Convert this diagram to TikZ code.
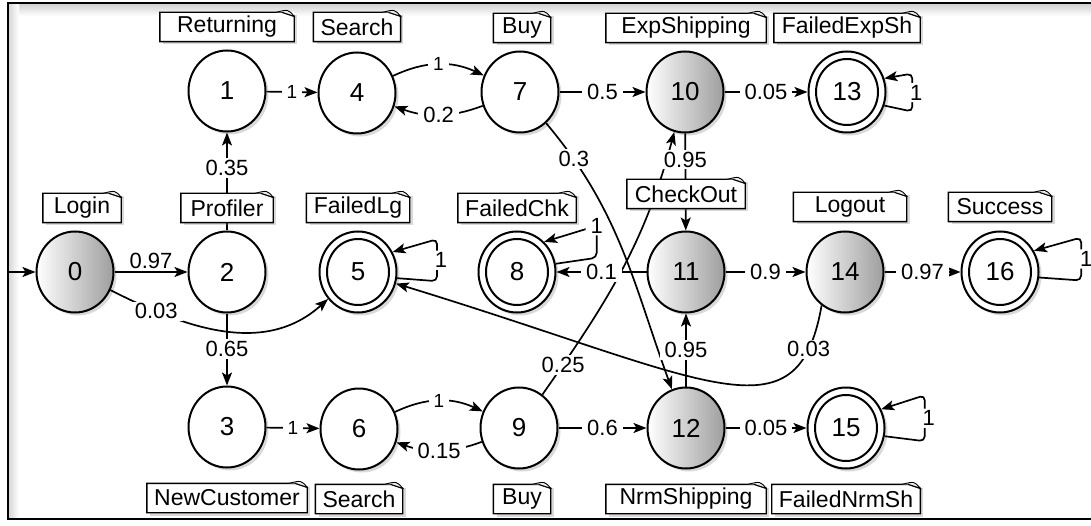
\documentclass[tikz,border=0pt]{standalone}
\usepackage{fontspec}
\setmainfont{Liberation Sans}
\usetikzlibrary{arrows.meta, positioning, shapes.geometric, shadows}

\tikzset{
  state/.style={ellipse, draw, line width=2pt, fill=white, minimum width=77pt, minimum height=81pt,
    inner sep=0pt, font=\fontsize{26}{30}\selectfont,
    drop shadow={shadow xshift=3pt, shadow yshift=-3pt, opacity=0.3}},
  busy/.style={left color=white, right color=black!38},
  final/.style={path picture={\draw[line width=2pt] (path picture bounding box.center) ellipse (31pt and 33pt);}},
  note/.style={fill=white, inner xsep=7pt, inner ysep=0pt, minimum height=29pt,
    font=\fontsize{23}{27}\selectfont,
    drop shadow={shadow xshift=3pt, shadow yshift=-3pt, opacity=0.3}},
  fold/.style={line width=1.4pt},
  prob/.style={fill=white, inner xsep=5pt, inner ysep=2pt, font=\fontsize{22}{26}\selectfont},
  unit/.style={prob, font=\fontsize{19}{22}\selectfont},
  arr/.style={-{Stealth[length=13pt, width=10pt, inset=3pt]}, line width=1.7pt}
}

\begin{document}
\begin{tikzpicture}[x=1pt, y=1pt]
  \useasboundingbox (0,0) rectangle (1091,-526);
  % frame
  \shade[top color=black!18, bottom color=white] (9,-4) rectangle (1100,-16);
  \shade[left color=black!15, right color=white] (9,-4) rectangle (19,-518);
  \draw[line width=2.2pt] (8,-3) rectangle (1100,-519);

  % states
  \node[state, busy] (s0) at (75,-272) {0};
  \node[state] (s1) at (227,-91) {1};
  \node[state] (s2) at (227,-272) {2};
  \node[state] (s3) at (227,-427) {3};
  \node[state] (s4) at (357,-93) {4};
  \node[state, final] (s5) at (358,-272) {5};
  \node[state] (s6) at (359,-429) {6};
  \node[state] (s7) at (520,-92) {7};
  \node[state, final] (s8) at (517,-272) {8};
  \node[state] (s9) at (519,-428) {9};
  \node[state, busy] (s10) at (685,-92) {10};
  \node[state, busy] (s11) at (686,-272) {11};
  \node[state, busy] (s12) at (686,-428) {12};
  \node[state, final] (s13) at (847,-92) {13};
  \node[state, busy] (s14) at (845,-272) {14};
  \node[state, final] (s15) at (846,-428) {15};
  \node[state, final] (s16) at (1000,-272) {16};

  \coordinate (start) at (9,-272);

  % transitions
  \draw[arr] (start) -- (s0);
  \draw[arr] (s0) -- node[prob, above, fill=none]{0.97} (s2);
  \draw[arr] (s0) to[out=-27, in=-138] node[prob, pos=0.2]{0.03} (s5);
  \draw[arr] (s2) -- node[prob, pos=0.64]{0.35} (s1);
  \draw[arr] (s2) -- node[prob, pos=0.49]{0.65} (s3);
  \draw[arr] (s1) -- node[unit]{1} (s4);
  \draw[arr] (s3) -- node[unit]{1} (s6);
  \draw[arr] (s4) to[bend left=25] node[unit]{1} (s7);
  \draw[arr] (s7) to[bend left=20] node[prob]{0.2} (s4);
  \draw[arr] (s6) to[bend left=25] node[unit]{1} (s9);
  \draw[arr] (s9) to[bend left=20] node[prob]{0.15} (s6);
  \draw[arr] (s7) -- node[prob]{0.5} (s10);
  \draw[arr] (s7) to[out=-50, in=110] node[prob, pos=0.14]{0.3} (s12);
  \draw[arr] (s9) -- node[prob]{0.6} (s12);
  \draw[arr] (s9) to[out=55, in=-105] node[prob, pos=0.11]{0.25} (s10);
  \draw[arr] (s10) -- node[prob]{0.05} (s13);
  \draw[arr] (s10) -- node[prob, pos=0.27]{0.95} (s11);
  \draw[arr] (s12) -- node[prob]{0.95} (s11);
  \draw[arr] (s11) -- node[prob]{0.1} (s8);
  \draw[arr] (s11) -- node[prob]{0.9} (s14);
  \draw[arr] (s14) -- node[prob]{0.97} (s16);
  \draw[arr] (s12) -- node[prob]{0.05} (s15);
  \draw[arr] (s14.235) .. controls +(-100:140) and +(-17:330) .. node[prob, pos=0.13]{0.03} (s5.-17);

  % self loops
  \draw[arr, rounded corners=5pt] (s5.-9) -- ++(40,-3) -- ++(0,42) node[prob, midway, xshift=4pt]{1} -- (s5.30);
  \draw[arr, rounded corners=5pt] (s8.12) -- ++(41,6) -- ++(0,32) node[prob]{1} -- (s8.48);
  \draw[arr, rounded corners=5pt] (s13.-20) -- ++(28,-6) -- ++(0,38) node[prob, midway, xshift=4pt]{1} -- (s13.20);
  \draw[arr, rounded corners=5pt] (s15.-12) -- ++(40,-5) -- ++(0,46) node[prob, midway, xshift=4pt]{1} -- (s15.28);
  \draw[arr, rounded corners=5pt] (s16.-8) -- ++(42,-3) -- ++(0,43) node[prob, midway, xshift=5pt]{1} -- (s16.32);

  % notes
  \node[note, minimum width=134pt] (n1) at (227,-27) {Returning};
  \node[note, minimum width=86pt] (n4) at (357,-27) {Search};
  \node[note, minimum width=57pt] (n7) at (522,-28) {Buy};
  \node[note, minimum width=160pt] (n10) at (686,-28) {ExpShipping};
  \node[note, minimum width=146pt] (n13) at (847,-28) {FailedExpSh};
  \node[note, minimum width=78pt] (n0) at (82,-208) {Login};
  \node[note, minimum width=92pt] (n2) at (227,-208) {Profiler};
  \node[note, minimum width=103pt] (n5) at (358,-208) {FailedLg};
  \node[note, minimum width=118pt] (n8) at (517,-208) {FailedChk};
  \node[note, minimum width=118pt] (n11) at (686,-194) {CheckOut};
  \node[note, minimum width=113pt] (n14) at (850,-207) {Logout};
  \node[note, minimum width=103pt] (n16) at (1000,-207) {Success};
  \node[note, minimum width=160pt] (n3) at (227,-498) {NewCustomer};
  \node[note, minimum width=87pt] (n6) at (359,-499) {Search};
  \node[note, minimum width=57pt] (n9) at (522,-499) {Buy};
  \node[note, minimum width=160pt] (n12) at (686,-499) {NrmShipping};
  \node[note, minimum width=148pt] (n15) at (846,-499) {FailedNrmSh};

  \foreach \n in {n0,n1,n2,n3,n4,n5,n6,n7,n8,n9,n10,n11,n12,n13,n14,n15,n16} {
    \draw[fold] (\n.south west) -- (\n.north west) -- ([xshift=-12pt]\n.north east)
      -- ([yshift=-4pt]\n.north east) -- (\n.south east) -- cycle;
    \draw[fold, line width=0.9pt, fill=black!8] ([xshift=-18pt]\n.north east)
      .. controls ([xshift=-6pt, yshift=3pt]\n.north east) .. ([yshift=-4pt]\n.north east)
      -- ([xshift=-12pt]\n.north east);
  }
\end{tikzpicture}
\end{document}
